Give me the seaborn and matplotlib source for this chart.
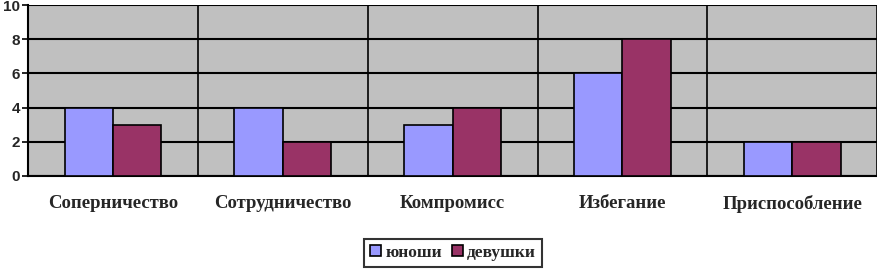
import numpy as np
import pandas as pd
import matplotlib
matplotlib.use("Agg")
import matplotlib.pyplot as plt
import seaborn as sns

categories = ["Соперничество", "Сотрудничество", "Компромисс", "Избегание", "Приспособление"]
boys = [4, 4, 3, 6, 2]
girls = [3, 2, 4, 8, 2]
series_names = ["юноши", "девушки"]

df = pd.DataFrame({
    "category": categories * 2,
    "value": boys + girls,
    "group": [series_names[0]] * len(categories) + [series_names[1]] * len(categories),
})

sns.set_style("white")
plt.rcParams["font.family"] = ["Liberation Serif", "DejaVu Serif"]

fig = plt.figure(figsize=(8.78, 2.69), dpi=100)
ax = fig.add_axes([0.032, 0.346, 0.967, 0.635])
ax.set_facecolor("#C0C0C0")

sns.barplot(data=df, x="category", y="value", hue="group",
            palette=["#9999FF", "#993366"], saturation=1, width=0.57,
            edgecolor="black", linewidth=1.2, ax=ax, zorder=3)

ax.set_ylim(0, 10)
ax.set_xlim(-0.5, len(categories) - 0.5)
ax.set_yticks(range(0, 11, 2))
ax.set_xticks(range(len(categories)))
ax.set_xticklabels(categories, fontfamily=["Liberation Serif", "DejaVu Serif"],
                   fontweight="bold", fontsize=13.5)
ax.set_yticklabels([str(v) for v in range(0, 11, 2)],
                   fontfamily=["Liberation Sans", "DejaVu Sans"],
                   fontweight="bold", fontsize=11)
ax.set_xticks(np.arange(-0.5, len(categories), 1.0), minor=True)
ax.grid(axis="y", color="black", linewidth=1.5, zorder=1)
ax.grid(axis="x", which="minor", color="black", linewidth=1.2, zorder=1)
ax.grid(axis="x", which="major", visible=False)
ax.tick_params(axis="x", which="major", length=0, pad=14)
ax.tick_params(axis="x", which="minor", length=5, width=1.2, color="black")
ax.tick_params(axis="y", length=4, width=1.2, color="black", pad=2, left=True)

for side in ["top", "right"]:
    ax.spines[side].set_visible(False)
ax.spines["left"].set_linewidth(1.5)
ax.spines["bottom"].set_linewidth(1.5)
ax.spines["left"].set_color("black")
ax.spines["bottom"].set_color("black")

ax.set_xlabel("")
ax.set_ylabel("")

handles, labels = ax.get_legend_handles_labels()
ax.legend_.remove()
leg = fig.legend(handles, labels, loc="center", bbox_to_anchor=(0.516, 0.06),
                 ncol=2, frameon=True, fancybox=False, edgecolor="black",
                 handlelength=0.6, handleheight=0.6, handletextpad=0.25,
                 columnspacing=0.6, borderpad=0.35,
                 prop={"family": ["Liberation Serif", "DejaVu Serif"], "weight": "bold", "size": 12.5})
leg.get_frame().set_linewidth(1.5)

fig.savefig("out.png", dpi=100)
